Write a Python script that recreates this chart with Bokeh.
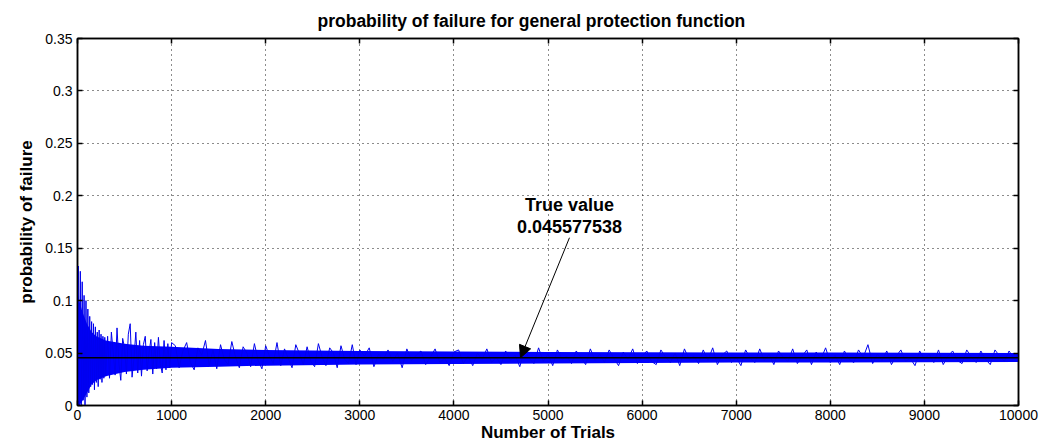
import numpy as np
from bokeh.plotting import figure
from bokeh.models import (FixedTicker, NumeralTickFormatter, LinearAxis, Label,
                          Arrow, NormalHead, Range1d, Span, CustomJSTickFormatter)
from bokeh.embed import file_html
from bokeh.resources import INLINE

TITLE = "probability of failure for general protection function"
X_LABEL = "Number of Trials"
Y_LABEL = "probability of failure"
X_TICKS = [0, 1000, 2000, 3000, 4000, 5000, 6000, 7000, 8000, 9000, 10000]
Y_TICKS = [0, 0.05, 0.1, 0.15, 0.2, 0.25, 0.3, 0.35]
TRUE_VALUE = 0.045577538
ANNOT_LINES = ["True value", "0.045577538"]
ANNOT_TEXT_X = 5228
ANNOT_TEXT_Y = [0.1908, 0.1707]
ARROW_FROM = (5228, 0.160)
ARROW_TO = (4708, TRUE_VALUE)

# dense core of the estimate band
band_x = [0, 20, 50, 100, 150, 200, 300, 500, 700, 1000, 1500, 2000, 3000,
          4000, 5000, 6000, 7000, 8000, 9000, 10000]
band_hi = [0.11, 0.10, 0.09, 0.078, 0.07, 0.066, 0.062, 0.059, 0.057, 0.056,
           0.054, 0.053, 0.052, 0.0515, 0.051, 0.0508, 0.0505, 0.0505, 0.0502, 0.050]
band_lo = [0.0, 0.0, 0.004, 0.012, 0.02, 0.024, 0.028, 0.032, 0.034, 0.036,
           0.037, 0.038, 0.039, 0.0395, 0.040, 0.0405, 0.041, 0.041, 0.0412, 0.0415]

# spiky running estimate, segment A: trials 0..300 every 10
est_a = [0.10, 0.133, 0.0, 0.128, 0.0, 0.118, 0.005, 0.105, 0.0, 0.10, 0.008,
         0.092, 0.012, 0.085, 0.018, 0.08, 0.02, 0.078, 0.015, 0.075, 0.022,
         0.07, 0.018, 0.072, 0.025, 0.068, 0.022, 0.066, 0.026, 0.065, 0.028]
# segment B: trials 320..1000 every 20
est_b = [0.066, 0.026, 0.07, 0.05, 0.029, 0.074, 0.04, 0.024, 0.064, 0.055,
         0.03, 0.068, 0.078, 0.027, 0.045, 0.07, 0.031, 0.062, 0.028, 0.058,
         0.066, 0.033, 0.05, 0.063, 0.03, 0.06, 0.035, 0.065, 0.04, 0.031,
         0.062, 0.034, 0.059, 0.036, 0.06]
# segment C: trials 1040..3000 every 40
est_c = [0.057, 0.036, 0.052, 0.06, 0.041, 0.034, 0.055, 0.048, 0.062, 0.038,
         0.053, 0.035, 0.058, 0.044, 0.039, 0.061, 0.046, 0.036, 0.056, 0.05,
         0.037, 0.059, 0.043, 0.035, 0.057, 0.047, 0.04, 0.06, 0.038, 0.054,
         0.045, 0.036, 0.058, 0.049, 0.039, 0.056, 0.042, 0.037, 0.059, 0.046,
         0.038, 0.055, 0.05, 0.036, 0.057, 0.044, 0.04, 0.058, 0.039, 0.053]
# segment D: trials 3050..10000 every 50
est_d = [0.047, 0.055, 0.037, 0.049, 0.044, 0.053, 0.042, 0.05, 0.036, 0.054,
         0.043, 0.048, 0.052, 0.039, 0.046, 0.054, 0.041, 0.045, 0.038, 0.051,
         0.053, 0.04, 0.047, 0.038, 0.05, 0.044, 0.054, 0.041, 0.046, 0.039,
         0.052, 0.043, 0.048, 0.037, 0.053, 0.045, 0.04, 0.055, 0.042, 0.049,
         0.038, 0.053, 0.044, 0.047, 0.04, 0.052, 0.046, 0.039, 0.054, 0.043,
         0.049, 0.041, 0.053, 0.045, 0.038, 0.051, 0.044, 0.054, 0.04, 0.047,
         0.052, 0.042, 0.039, 0.053, 0.046, 0.041, 0.05, 0.038, 0.054, 0.044,
         0.047, 0.04, 0.053, 0.043, 0.055, 0.039, 0.048, 0.052, 0.041, 0.046,
         0.038, 0.053, 0.045, 0.041, 0.054, 0.043, 0.049, 0.039, 0.052, 0.046,
         0.042, 0.054, 0.04, 0.047, 0.053, 0.039, 0.051, 0.044, 0.055, 0.041,
         0.048, 0.039, 0.052, 0.044, 0.041, 0.053, 0.046, 0.058, 0.04, 0.049,
         0.043, 0.052, 0.039, 0.047, 0.053, 0.042, 0.045, 0.038, 0.052, 0.044,
         0.049, 0.041, 0.053, 0.039, 0.047, 0.052, 0.043, 0.04, 0.053, 0.046,
         0.041, 0.052, 0.044, 0.039, 0.053, 0.047, 0.042, 0.052, 0.045, 0.048]

trials = np.concatenate([np.arange(0, 301, 10), np.arange(320, 1001, 20),
                         np.arange(1040, 3001, 40), np.arange(3050, 10001, 50)])
estimate = est_a + est_b + est_c + est_d

FONT = "Liberation Sans"

p = figure(width=1055, height=444, output_backend="svg", toolbar_location=None,
           x_range=Range1d(0, 10000), y_range=Range1d(0, 0.35),
           min_border_left=77, min_border_right=37, min_border_top=15,
           min_border_bottom=39)

p.title.text = TITLE
p.title.text_font = FONT
p.title.text_font_size = "17.5px"
p.title.text_font_style = "bold"
p.title.text_color = "black"
p.title.align = "left"
p.title.offset = 240
p.title.standoff = 16

p.varea(x=band_x, y1=band_lo, y2=band_hi, fill_color="#0000FF", fill_alpha=1)
p.line(x=trials, y=estimate, line_color="#0000EE", line_width=1)
p.add_layout(Span(location=TRUE_VALUE, dimension="width", line_color="black",
                  line_width=1.5))

for txt, yy in zip(ANNOT_LINES, ANNOT_TEXT_Y):
    p.add_layout(Label(x=ANNOT_TEXT_X, y=yy, text=txt, text_font=FONT,
                       text_font_size="18px", text_font_style="bold",
                       text_color="black",
                       text_align="center", text_baseline="middle"))
p.add_layout(Arrow(end=NormalHead(size=12, fill_color="black", line_color="black"),
                   x_start=ARROW_FROM[0], y_start=ARROW_FROM[1],
                   x_end=ARROW_TO[0], y_end=ARROW_TO[1],
                   line_color="black", line_width=1))

xt = FixedTicker(ticks=X_TICKS)
yt = FixedTicker(ticks=Y_TICKS)

for ax in p.xaxis + p.yaxis:
    ax.axis_line_color = "black"
    ax.axis_line_width = 1.5
    ax.major_tick_in = 5
    ax.major_tick_out = 0
    ax.minor_tick_line_color = None
    ax.major_tick_line_color = "black"
    ax.major_tick_line_width = 1.5
    ax.major_label_text_font = FONT
    ax.major_label_text_font_size = "14px"
    ax.major_label_text_color = "black"
    ax.axis_label_text_font = FONT
    ax.axis_label_text_font_size = "17px"
    ax.axis_label_text_font_style = "bold"
    ax.axis_label_text_color = "black"

p.xaxis.ticker = xt
p.yaxis.ticker = yt
p.yaxis.formatter = NumeralTickFormatter(format="0.[00]")
p.xaxis.axis_label = X_LABEL
p.yaxis.axis_label = Y_LABEL
p.xaxis.major_label_standoff = 4
p.yaxis.major_label_standoff = 5
p.xaxis.axis_label_standoff = 0
p.yaxis.axis_label_standoff = 6

blank = CustomJSTickFormatter(code="return '';")
right = LinearAxis(ticker=yt, formatter=blank,
                   major_tick_in=5, major_tick_out=0, minor_tick_line_color=None,
                   axis_line_width=1.5, major_tick_line_width=1.5,
                   major_label_standoff=0)
top = LinearAxis(ticker=xt, formatter=blank,
                 major_tick_in=5, major_tick_out=0, minor_tick_line_color=None,
                 axis_line_width=1.5, major_tick_line_width=1.5,
                 major_label_standoff=0)
p.add_layout(right, "right")
p.add_layout(top, "above")

p.xgrid.ticker = xt
p.ygrid.ticker = yt
p.grid.grid_line_color = "black"
p.grid.grid_line_dash = "1 4"
p.grid.grid_line_width = 1
p.grid.grid_line_alpha = 0.9
p.outline_line_color = "black"
p.outline_line_width = 1.5

open("out.html", "w").write(file_html(p, INLINE))
